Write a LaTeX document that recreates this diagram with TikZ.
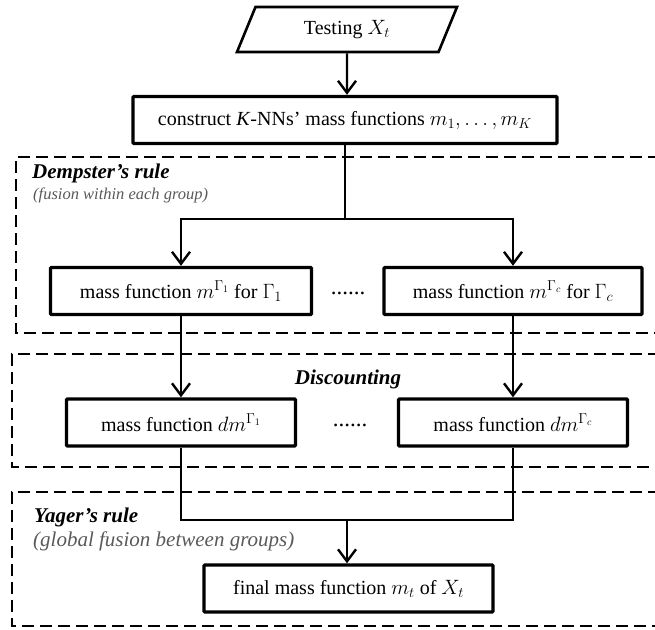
\documentclass[tikz,border=0pt]{standalone}
\usepackage{fontspec}
\setmainfont{Liberation Serif}
\usetikzlibrary{arrows.meta,shapes.geometric}

\tikzset{
    x=1pt, y=-1pt,
    stepbox/.style={draw, line width=3.4pt, rounded corners=1pt, minimum height=47pt,
        inner sep=0pt, font=\fontsize{20}{23}\selectfont},
    inputbox/.style={draw, trapezium, trapezium left angle=45, trapezium right angle=135,
        trapezium stretches body, line width=2.6pt, minimum width=220pt, minimum height=45pt,
        inner sep=0pt, font=\fontsize{20}{23}\selectfont},
    flow/.style={line width=2.2pt},
    arr/.style={flow, -{Straight Barb[length=12pt,width=18pt,line width=2.4pt]}},
    grpline/.style={line width=1.8pt, dash pattern=on 12pt off 6pt},
    grptitle/.style={anchor=west, inner sep=0pt, font=\fontsize{21}{24}\selectfont\bfseries\itshape},
    grpnote/.style={anchor=west, inner sep=0pt, text=black!65, font=\fontsize{21}{24}\selectfont\itshape},
    dots/.style={inner sep=0pt, font=\fontsize{23}{26}\selectfont}
}

\begin{document}
\begin{tikzpicture}
            \useasboundingbox (0,0) rectangle (655,629);

            \draw[grpline] (660,157) -| (16,333) -- (660,333);
            \draw[grpline] (660,354) -| (12,467) -- (660,467);
            \draw[grpline] (660,492) -| (12,626) -- (660,626);

            \node[grptitle] (dempster) at (32,173) {Dempster’s rule};
            \node[grpnote, font=\fontsize{16.5}{19}\selectfont\itshape] (dempsternote) at (33,195) {(fusion within each group)};
            \node[grptitle, anchor=center] (discount) at (348,379) {Discounting};
            \node[grptitle] (yager) at (34,517) {Yager’s rule};
            \node[grpnote] (yagernote) at (33,541) {(global fusion between groups)};

            \node[inputbox] (test) at (347,29.5) {Testing $X_t$};
            \node[stepbox, minimum width=424pt] (knn) at (345,120) {construct \textit{K}-NNs’ mass functions $m_1,\ldots,m_K$};

            \node[stepbox, minimum width=261pt] (g1) at (181,291) {mass function $m^{\Gamma_1}$ for $\Gamma_1$};
            \node[stepbox, minimum width=258pt] (gc) at (513,291) {mass function $m^{\Gamma_c}$ for $\Gamma_c$};
            \node[dots] (gdots) at (348,293) {......};

            \node[stepbox, minimum width=229pt] (d1) at (181,422.5) {mass function $dm^{\Gamma_1}$};
            \node[stepbox, minimum width=229pt] (dc) at (513,422.5) {mass function $dm^{\Gamma_c}$};
            \node[dots] (ddots) at (350,425) {......};

            \node[stepbox, minimum width=289pt] (final) at (348.5,588.5) {final mass function $m_t$ of $X_t$};

            \coordinate (fork) at (345,219);
            \coordinate (join) at (347,520);

            \draw[arr] (test) -- (test |- knn.north);
            \draw[flow] (knn.south) -- (fork);
            \draw[arr] (fork) -| (g1.north);
            \draw[arr] (fork) -| (gc.north);
            \draw[arr] (g1) -- (d1);
            \draw[arr] (gc) -- (dc);
            \draw[flow] (d1.south) |- (join) -| (dc.south);
            \draw[arr] (join) -- (final.north -| join);
        \end{tikzpicture}
\end{document}
